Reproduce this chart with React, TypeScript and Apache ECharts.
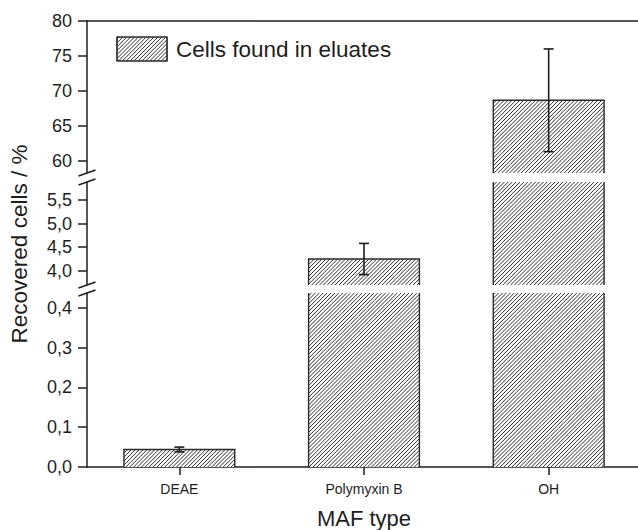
import React, { useEffect, useRef } from "react";
import * as echarts from "echarts";

// ---- data ----
const categories = ["DEAE", "Polymyxin B", "OH"];
const recovered = [0.044, 4.25, 68.65];
const errors = [0.006, 0.33, 7.35];

// y-axis segments (bottom → top) of the broken axis
const bottomRange = [0, 0.437];
const middleRange = [3.7, 5.88];
const topRange = [58.25, 80];
const bottomTicks = [0, 0.1, 0.2, 0.3, 0.4];
const middleTicks = [4.0, 4.5, 5.0, 5.5];
const topTicks = [60, 65, 70, 75, 80];

const legendLabel = "Cells found in eluates";
const xTitle = "MAF type";
const yTitle = "Recovered cells / %";

// ---- layout ----
const LEFT = 87;
const WIDTH = 554;
const GRIDS = [
  { top: 21, height: 152 }, // top segment
  { top: 182, height: 103 }, // middle segment
  { top: 293, height: 174 }, // bottom segment
];
const RANGES = [topRange, middleRange, bottomRange];
const TICKS = [topTicks, middleTicks, bottomTicks];

const FONT = "'Liberation Sans', Arial, Helvetica, sans-serif";
const INK = "#1e1e1e";
const HATCH = "#2e2e2e";
const HATCH_STEP = 3.9;

function hatchLines(x0: number, y0: number, x1: number, y1: number) {
  const out: any[] = [];
  const start = Math.ceil((x0 + y0) / HATCH_STEP) * HATCH_STEP;
  for (let c = start; c <= x1 + y1; c += HATCH_STEP) {
    const xa = Math.max(x0, c - y1);
    const xb = Math.min(x1, c - y0);
    if (xb - xa > 0.3) {
      out.push({
        type: "line",
        silent: true,
        shape: { x1: xa, y1: c - xa, x2: xb, y2: c - xb },
        style: { stroke: HATCH, lineWidth: 1 },
      });
    }
  }
  return out;
}

function makeRender(g: number) {
  return (params: any, api: any) => {
    const idx = api.value(0);
    const val = api.value(1);
    const err = api.value(2);
    const cs = params.coordSys;
    const [yMin, yMax] = RANGES[g];
    if (val <= yMin) return { type: "group", children: [] };
    const cx = api.coord([idx, yMin])[0];
    const band = api.size([1, 0])[0];
    const bw = band * 0.6;
    const x0 = cx - bw / 2;
    const x1 = cx + bw / 2;
    const yBottom = cs.y + cs.height;
    const rawTop = api.coord([idx, val])[1];
    const clipped = rawTop < cs.y;
    const yTop = clipped ? cs.y : rawTop;
    const border = { stroke: "#2a2a2a", lineWidth: 1.4 };
    const children: any[] = [
      { type: "rect", shape: { x: x0, y: yTop, width: bw, height: yBottom - yTop }, style: { fill: "#fff" } },
      ...hatchLines(x0, yTop, x1, yBottom),
      { type: "line", shape: { x1: x0, y1: yTop, x2: x0, y2: yBottom }, style: border },
      { type: "line", shape: { x1: x1, y1: yTop, x2: x1, y2: yBottom }, style: border },
    ];
    if (!clipped) {
      children.push({ type: "line", shape: { x1: x0 - 0.7, y1: yTop, x2: x1 + 0.7, y2: yTop }, style: border });
    }
    if (val >= yMin && val <= yMax) {
      const yHi = api.coord([idx, Math.min(val + err, yMax)])[1];
      const yLo = api.coord([idx, Math.max(val - err, yMin)])[1];
      const es = { stroke: INK, lineWidth: 1.6 };
      children.push(
        { type: "line", shape: { x1: cx, y1: yHi, x2: cx, y2: yLo }, style: es },
        { type: "line", shape: { x1: cx - 5, y1: yHi, x2: cx + 5, y2: yHi }, style: es },
        { type: "line", shape: { x1: cx - 5, y1: yLo, x2: cx + 5, y2: yLo }, style: es }
      );
    }
    return { type: "group", children };
  };
}

function fmt(g: number) {
  return (v: number) => (g === 0 ? String(Math.round(v)) : v.toFixed(1).replace(".", ","));
}

function breakMarks() {
  const ends = [
    GRIDS[0].top + GRIDS[0].height,
    GRIDS[1].top,
    GRIDS[1].top + GRIDS[1].height,
    GRIDS[2].top,
  ];
  return ends.map((y) => ({
    type: "line",
    silent: true,
    shape: { x1: LEFT - 8.5, y1: y + 3, x2: LEFT + 8.5, y2: y - 3 },
    style: { stroke: INK, lineWidth: 1.5 },
  }));
}

export default function App() {
  const ref = useRef<HTMLDivElement>(null);
  useEffect(() => {
    if (!ref.current) return;
    const chart = echarts.init(ref.current, null, { renderer: "svg" });
    const axisLineStyle = { color: INK, width: 1.5 };
    const legendBox = { x0: 117, y0: 37, x1: 167, y1: 61 };
    const option: any = {
      animation: false,
      backgroundColor: "#fff",
      textStyle: { fontFamily: FONT },
      grid: GRIDS.map((g) => ({
        left: LEFT,
        top: g.top,
        width: WIDTH,
        height: g.height,
        containLabel: false,
        outerBoundsMode: "none",
      })),
      xAxis: GRIDS.map((_, g) => ({
        gridIndex: g,
        type: "category",
        data: categories,
        position: g === 0 ? "top" : "bottom",
        show: g !== 1,
        axisLine: { show: g !== 1, onZero: false, lineStyle: axisLineStyle },
        axisTick: { show: g === 2, alignWithLabel: true, length: 8, lineStyle: { color: INK, width: 1.5 } },
        axisLabel: { show: g === 2, fontSize: 14, margin: 15, color: INK, fontFamily: FONT },
        splitLine: { show: false },
        name: g === 2 ? xTitle : "",
        nameLocation: "middle",
        nameGap: 40,
        nameTextStyle: { fontSize: 22, color: INK, fontFamily: FONT },
      })),
      yAxis: GRIDS.map((_, g) => ({
        gridIndex: g,
        type: "value",
        min: RANGES[g][0],
        max: RANGES[g][1],
        axisLine: { show: true, lineStyle: axisLineStyle },
        axisTick: { show: true, length: 9, customValues: TICKS[g], lineStyle: { color: INK, width: 1.5 } },
        axisLabel: {
          show: true,
          customValues: TICKS[g],
          formatter: fmt(g),
          fontSize: 18,
          margin: 15,
          color: INK,
          fontFamily: FONT,
        },
        splitLine: { show: false },
      })),
      series: GRIDS.map((_, g) => ({
        type: "custom",
        xAxisIndex: g,
        yAxisIndex: g,
        clip: false,
        encode: { x: 0, y: 1 },
        renderItem: makeRender(g),
        data: categories.map((_, i) => [i, recovered[i], errors[i]]),
      })),
      graphic: [
        ...breakMarks(),
        {
          type: "group",
          children: [
            {
              type: "rect",
              shape: { x: legendBox.x0, y: legendBox.y0, width: legendBox.x1 - legendBox.x0, height: legendBox.y1 - legendBox.y0 },
              style: { fill: "#fff", stroke: "#2a2a2a", lineWidth: 1.2 },
            },
            ...hatchLines(legendBox.x0, legendBox.y0, legendBox.x1, legendBox.y1),
            {
              type: "rect",
              shape: { x: legendBox.x0, y: legendBox.y0, width: legendBox.x1 - legendBox.x0, height: legendBox.y1 - legendBox.y0 },
              style: { fill: "none", stroke: "#2a2a2a", lineWidth: 1.2 },
            },
            {
              type: "text",
              x: 176,
              y: 49,
              style: { text: legendLabel, fontSize: 22.5, fontFamily: FONT, fill: INK, align: "left", verticalAlign: "middle" },
            },
          ],
        },
        {
          type: "text",
          x: 19,
          y: 244,
          rotation: Math.PI / 2,
          style: { text: yTitle, fontSize: 22.5, fontFamily: FONT, fill: INK, align: "center", verticalAlign: "middle" },
        },
      ],
    };
    chart.setOption(option);
    return () => chart.dispose();
  }, []);
  return (
    <div
      ref={ref}
      style={{ position: "absolute", left: 0, top: 0, width: 638, height: 530, background: "#fff" }}
    />
  );
}
